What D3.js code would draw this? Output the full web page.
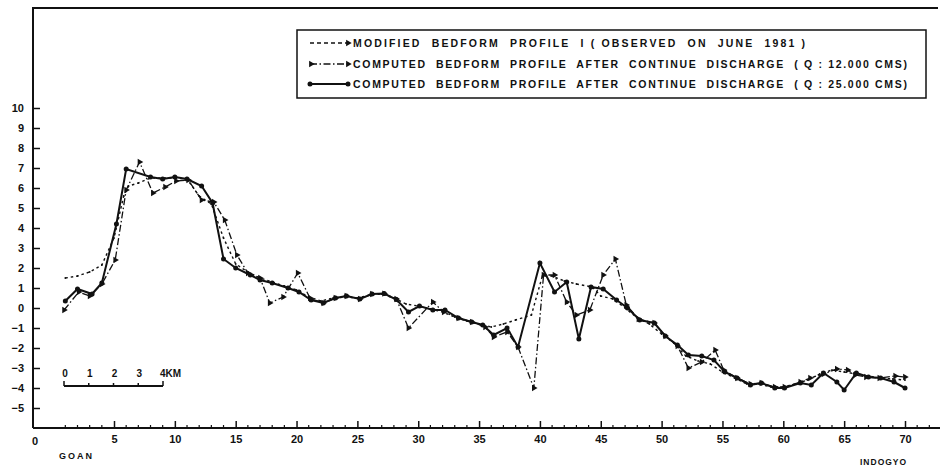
<!DOCTYPE html>
<html>
<head>
<meta charset="utf-8">
<script src="https://cdn.jsdelivr.net/npm/d3@7"></script>
<style>
  body { margin: 0; background: #fff; }
  svg text { font-family: "Liberation Sans", Arial, sans-serif; font-weight: bold; fill: #111; white-space: pre; }
</style>
</head>
<body>
<svg id="chart" width="940" height="467"></svg>
<script>
// distance (km) / bed level
const observed = [
    [1, 1.5], [2, 1.6], [3, 1.8], [4, 2.15], [5, 3.5], [5.8, 5.6], [6.2, 6.1], [7, 6.25], [8, 6.5], [9, 6.5],
    [10, 6.5], [11, 6.45], [12, 5.6], [13, 5.2], [14, 3.5], [15, 2.2], [16, 1.8], [17, 1.5], [18, 1.3], [19, 1.1],
    [20, 0.9], [21, 0.55], [22, 0.35], [23, 0.5], [24, 0.55], [25, 0.5], [26, 0.65], [27, 0.7], [28, 0.5], [29, 0.2],
    [30, 0.1], [31, -0.05], [32, -0.2], [33, -0.45], [34, -0.65], [35, -0.8], [36, -0.95], [37, -0.8], [38, -0.6], [39.3, -0.35],
    [40.2, 1.6], [41, 1.6], [42, 1.35], [43, 1.2], [44.3, 1.05], [45, 0.6], [46, 0.45], [47, 0.0], [48, -0.5], [49, -0.8],
    [50, -1.3], [51, -1.75], [52, -2.4], [53, -2.65], [54, -2.8], [55, -3.2], [56, -3.5], [57, -3.8], [58, -3.8], [59, -3.95],
    [60, -3.95], [61, -3.8], [62, -3.6], [63, -3.3], [64, -3.1], [65, -3.2], [66, -3.3], [67, -3.4], [68, -3.5], [69, -3.55], [70, -3.6]
];

const q12000 = [
    [0.9, -0.1], [2.1, 0.8], [3, 0.6], [4, 1.2], [5.1, 2.4], [6, 5.9], [7.1, 7.3], [8.2, 5.75], [9.2, 6.05], [10.1, 6.35],
    [11.1, 6.4], [12.2, 5.4], [13.2, 5.3], [14.1, 4.4], [15.1, 2.65], [16, 1.75], [17, 1.5], [17.8, 0.25], [18.9, 0.55], [20.1, 1.75],
    [21.1, 0.5], [22.2, 0.25], [23.2, 0.5], [24.1, 0.6], [25.2, 0.45], [26.2, 0.7], [27.2, 0.72], [28.2, 0.45], [29.2, -1.0], [31.2, 0.3],
    [32.1, -0.2], [33.3, -0.5], [34.4, -0.7], [35.5, -0.95], [36.2, -1.45], [37.3, -1.2], [38.2, -1.95], [39.5, -4.0], [40.3, 1.65], [41.2, 1.65],
    [42.2, 0.3], [43, -0.35], [44.1, -0.1], [45.2, 1.65], [46.2, 2.45], [47.1, 0.15], [48.1, -0.55], [49.4, -0.75], [50.3, -1.4], [51.3, -1.9],
    [52.2, -3.0], [53.3, -2.7], [54.4, -2.1], [55.1, -3.1], [56.2, -3.5], [57.3, -3.8], [58.2, -3.75], [59.3, -3.95], [60.1, -3.95], [61.4, -3.7],
    [62.2, -3.5], [63.3, -3.3], [64.4, -3.05], [65.3, -3.1], [65.9, -3.35], [66.8, -3.45], [67.9, -3.5], [69.2, -3.4], [70, -3.45]
];

const q25000 = [
    [1, 0.35], [2, 0.95], [3.2, 0.7], [4, 1.25], [5.2, 4.2], [6, 6.95], [8, 6.55], [9, 6.45], [10, 6.55], [11, 6.45],
    [12.2, 6.1], [13.1, 5.25], [14, 2.45], [15, 2.0], [16.2, 1.65], [17, 1.4], [18, 1.25], [19.3, 1.0], [20.2, 0.8], [21.2, 0.4],
    [22.2, 0.25], [23.2, 0.5], [24.1, 0.6], [25.2, 0.45], [26.2, 0.7], [27.2, 0.72], [28.2, 0.42], [29.2, -0.2], [30.1, 0.1], [31.2, -0.1],
    [32.2, -0.1], [33.3, -0.5], [34.4, -0.7], [35.3, -0.85], [36.2, -1.35], [37.3, -1.0], [38.2, -1.95], [40, 2.25], [41.2, 0.8], [42.2, 1.3],
    [43.2, -1.55], [44.2, 1.05], [45.2, 0.95], [46.3, 0.4], [47.2, 0.0], [48.2, -0.6], [49.4, -0.75], [50.3, -1.4], [51.3, -1.85], [52.2, -2.35],
    [53.3, -2.4], [54.3, -2.6], [55.2, -3.2], [56.2, -3.5], [57.3, -3.85], [58.2, -3.75], [59.3, -4.0], [60.1, -4.0], [61.4, -3.75], [62.3, -3.85],
    [63.3, -3.25], [64.4, -3.7], [65, -4.1], [66, -3.25], [67, -3.45], [68, -3.5], [69.1, -3.7], [70, -4.0]
];

const xTicks = [5, 10, 15, 20, 25, 30, 35, 40, 45, 50, 55, 60, 65, 70];
const yTicks = [-5, -4, -3, -2, -1, 0, 1, 2, 3, 4, 5, 6, 7, 8, 9, 10];
const scaleBarKm = [0, 1, 2, 3, 4];
const legendLabels = [
    "MODIFIED  BEDFORM  PROFILE  I ( OBSERVED  ON  JUNE  1981 )",
    "COMPUTED  BEDFORM  PROFILE  AFTER  CONTINUE  DISCHARGE  ( Q : 12.000 CMS)",
    "COMPUTED  BEDFORM  PROFILE  AFTER  CONTINUE  DISCHARGE  ( Q : 25.000 CMS)"
];

const svg = d3.select("#chart");
const ink = "#111";

const x = d3.scaleLinear().domain([5, 70]).range([114, 905]);
const y = d3.scaleLinear().domain([0, 10]).range([308, 108]);
const x0 = 33, yBottom = y(-6), yTop = 8;

// frame: top line, left axis, bottom axis
svg.append("path")
    .attr("d", `M${x0},${yBottom}V${yTop}H938M${x0},${yBottom}H940`)
    .attr("fill", "none").attr("stroke", ink).attr("stroke-width", 2);

// y axis, ticks pointing inward
const yAxis = svg.append("g")
    .attr("transform", `translate(${x0},0)`)
    .call(d3.axisLeft(y).tickValues(yTicks).tickSize(-7).tickPadding(9).tickFormat(d3.format("d")));
yAxis.select(".domain").remove();
yAxis.selectAll("line").attr("stroke", ink).attr("stroke-width", 1.5);
yAxis.selectAll("text").attr("font-size", 11).style("font-family", null);

// x axis: minor ticks each km, major each 5 km
const minor = d3.range(1, 73).filter(d => d % 5 !== 0);
svg.append("g").selectAll("line").data(minor).join("line")
    .attr("x1", d => x(d)).attr("x2", d => x(d))
    .attr("y1", yBottom).attr("y2", yBottom - 3)
    .attr("stroke", ink).attr("stroke-width", 1.2);

const xAxis = svg.append("g")
    .attr("transform", `translate(0,${yBottom})`)
    .call(d3.axisBottom(x).tickValues(xTicks).tickSize(-7).tickPadding(7).tickFormat(d3.format("d")));
xAxis.select(".domain").remove();
xAxis.selectAll("line").attr("stroke", ink).attr("stroke-width", 1.5);
xAxis.selectAll("text").attr("font-size", 11).style("font-family", null);

svg.append("text").attr("x", x0 + 2).attr("y", yBottom + 17).attr("text-anchor", "middle")
    .attr("font-size", 11).text("0");
svg.append("text").attr("x", 59).attr("y", 459).attr("font-size", 9).attr("letter-spacing", 2).text("GOAN");
svg.append("text").attr("x", 860).attr("y", 465).attr("font-size", 8.5).attr("letter-spacing", 1).text("INDOGYO");

// profiles
const line = d3.line().x(d => x(d[0])).y(d => y(d[1]));
const layer = svg.append("g").attr("fill", "none").attr("stroke", ink);

layer.append("path").datum(observed).attr("d", line)
    .attr("stroke-width", 1.4).attr("stroke-dasharray", "2.5,3");
layer.append("path").datum(q12000).attr("d", line)
    .attr("stroke-width", 1.3).attr("stroke-dasharray", "7,2.5,1.5,2.5");
layer.append("path").datum(q25000).attr("d", line)
    .attr("stroke-width", 2);

const tri = d3.symbol().type(d3.symbolTriangle).size(18);
svg.append("g").selectAll("path").data(q12000).join("path")
    .attr("d", tri)
    .attr("transform", d => `translate(${x(d[0])},${y(d[1])}) rotate(90)`)
    .attr("fill", ink);
svg.append("g").selectAll("circle").data(observed).join("circle")
    .attr("cx", d => x(d[0])).attr("cy", d => y(d[1])).attr("r", 0.9)
    .attr("fill", ink);
svg.append("g").selectAll("circle").data(q25000).join("circle")
    .attr("cx", d => x(d[0])).attr("cy", d => y(d[1])).attr("r", 2.5)
    .attr("fill", ink);

// legend box
const legend = svg.append("g");
legend.append("rect").attr("x", 297).attr("y", 30).attr("width", 629).attr("height", 68)
    .attr("fill", "#fff").attr("stroke", ink).attr("stroke-width", 1.5);

const rowY = [43, 64, 84];
const textEnd = [805, 907, 907];
legendLabels.forEach((label, i) => {
    const ly = rowY[i];
    const sample = legend.append("line").attr("x1", 310).attr("x2", 348).attr("y1", ly).attr("y2", ly)
        .attr("stroke", ink);
    if (i === 0) sample.attr("stroke-width", 1.4).attr("stroke-dasharray", "4,3");
    if (i === 1) sample.attr("stroke-width", 1.3).attr("stroke-dasharray", "7,2.5,1.5,2.5");
    if (i === 2) {
        sample.attr("stroke-width", 2);
        legend.selectAll(null).data([310, 348]).join("circle")
            .attr("cx", d => d).attr("cy", ly).attr("r", 2.5).attr("fill", ink);
    } else {
        legend.selectAll(null).data(i === 1 ? [311, 348] : [348]).join("path")
            .attr("d", tri)
            .attr("transform", d => `translate(${d},${ly}) rotate(90)`)
            .attr("fill", ink);
    }
    legend.append("text").attr("x", 353).attr("y", ly + 4).attr("font-size", 10.5)
        .attr("textLength", textEnd[i] - 353).attr("lengthAdjust", "spacing")
        .text(label);
});

// km scale bar
const bar = d3.scaleLinear().domain([0, 4]).range([64, 163]);
const sb = svg.append("g");
sb.append("line").attr("x1", bar(0)).attr("x2", bar(4)).attr("y1", 386).attr("y2", 386)
    .attr("stroke", ink).attr("stroke-width", 2);
sb.selectAll("line.t").data(scaleBarKm).join("line").attr("class", "t")
    .attr("x1", d => bar(d)).attr("x2", d => bar(d)).attr("y1", 386).attr("y2", d => (d === 0 || d === 4) ? 381 : 383)
    .attr("stroke", ink).attr("stroke-width", 1.5);
sb.selectAll("text").data(scaleBarKm).join("text")
    .attr("x", d => bar(d)).attr("y", 377).attr("font-size", 10)
    .attr("text-anchor", d => d === 4 ? "start" : "middle")
    .attr("dx", d => d === 4 ? -3 : 1)
    .text(d => d === 4 ? "4KM" : d);
</script>
</body>
</html>
